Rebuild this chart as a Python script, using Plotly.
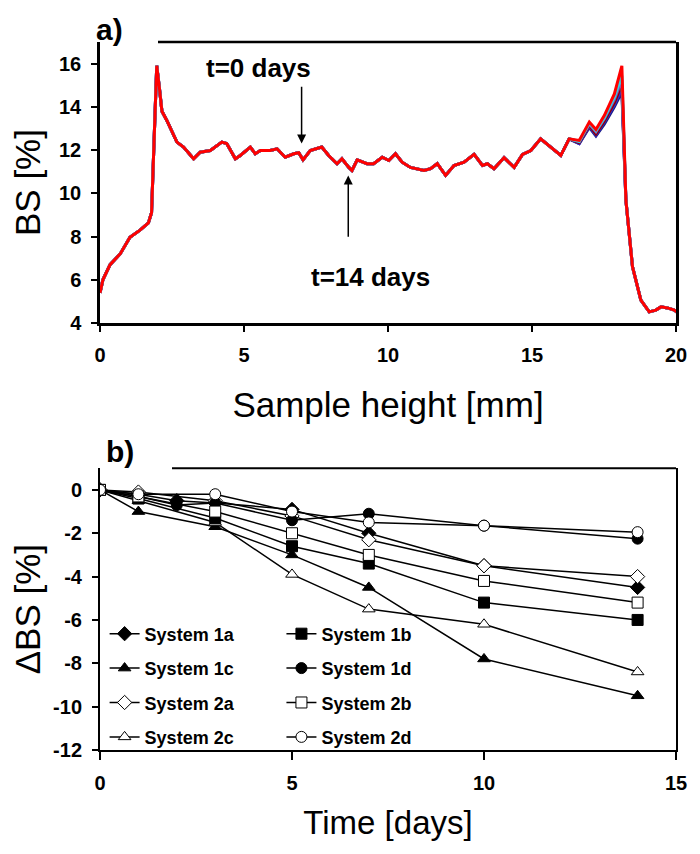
import plotly.graph_objects as go

FONT = "Arial, Liberation Sans, sans-serif"

# ---------------- Panel a) BS profiles ----------------
# common part of profile (left of the right peak)
H_LEFT = [0, 0.1, 0.35, 0.7, 1.04, 1.39, 1.68, 1.79, 1.88, 1.97, 2.06, 2.15, 2.32, 2.67, 2.9,
          3.25, 3.48, 3.83, 4.23, 4.4, 4.7, 4.87, 5.22, 5.39, 5.57, 5.91, 6.15, 6.43, 6.73,
          6.9, 7.05, 7.3, 7.7, 7.94, 8.23, 8.4, 8.64, 8.75, 8.93, 9.27, 9.5, 9.8, 10.03,
          10.26, 10.49, 10.78, 11.25, 11.48, 11.71, 12.0, 12.29, 12.64, 12.99, 13.28,
          13.45, 13.68, 14.03, 14.38, 14.67, 14.96, 15.3, 15.65, 16.0, 16.29]
BS_LEFT = [5.4, 6.0, 6.7, 7.2, 7.97, 8.3, 8.63, 9.1, 12.5, 15.9, 14.9, 13.8, 13.37, 12.37,
           12.14, 11.6, 11.9, 11.98, 12.37, 12.3, 11.6, 11.75, 12.14, 11.83, 11.98, 11.98,
           12.06, 11.67, 11.83, 11.88, 11.55, 11.98, 12.14, 11.75, 11.37, 11.6, 11.2, 11.06,
           11.55, 11.37, 11.37, 11.67, 11.52, 11.83, 11.44, 11.2, 11.06, 11.14, 11.37, 10.83,
           11.29, 11.44, 11.8, 11.29, 11.37, 11.14, 11.65, 11.2, 11.8, 11.98, 12.52, 12.14,
           11.75, 12.52]
# right peak region (differs with time)
H_PEAK = [16.64, 16.99, 17.22, 17.51, 17.86, 18.12]
BS_PEAK_RED = [12.45, 13.3, 12.95, 13.6, 14.6, 15.9]
BS_PEAK_CYAN = [12.4, 13.25, 12.9, 13.5, 14.45, 15.45]
BS_PEAK_PURPLE = [12.4, 13.2, 12.85, 13.45, 14.35, 15.25]
BS_PEAK_DARKRED = [12.35, 13.15, 12.75, 13.35, 14.2, 15.05]
BS_PEAK_BLUE = [12.3, 13.1, 12.7, 13.3, 14.1, 14.85]
BS_PEAK_NAVY = [12.3, 13.05, 12.65, 13.2, 14.0, 14.7]
# common tail
H_RIGHT = [18.26, 18.49, 18.78, 19.07, 19.3, 19.48, 19.7, 19.94, 20.2]
BS_RIGHT = [9.68, 6.6, 5.06, 4.52, 4.6, 4.75, 4.7, 4.6, 4.35]

PROFILES = [
    ("#1c1c80", BS_PEAK_NAVY),
    ("#2b2bd8", BS_PEAK_BLUE),
    ("#8b0000", BS_PEAK_DARKRED),
    ("#9040b0", BS_PEAK_PURPLE),
    ("#30d8e8", BS_PEAK_CYAN),
    ("#ff0000", BS_PEAK_RED),
]

# ---------------- Panel b) Delta BS ----------------
DAYS_A = [0, 1, 2, 3, 5, 7, 10, 14]
DAYS_B = [0, 1, 3, 5, 7, 10, 14]
SYS_1A = [0, -0.2, -0.5, -0.6, -0.9, -2.0, -3.5, -4.5]
SYS_1B = [0, -0.4, -1.3, -2.6, -3.4, -5.2, -6.0]
SYS_1C = [0, -1.0, -1.7, -3.0, -4.5, -7.8, -9.5]
SYS_1D = [0, -0.3, -0.7, -0.6, -1.4, -1.1, -1.65, -2.25]
SYS_2A = [0, -0.1, -0.5, -1.2, -2.3, -3.5, -4.0]
SYS_2B = [0, -0.3, -1.0, -2.0, -3.0, -4.2, -5.2]
SYS_2C = [0, -0.5, -1.5, -3.9, -5.5, -6.2, -8.4]
SYS_2D = [0, -0.2, -0.2, -1.0, -1.5, -1.65, -1.95]

Y2_TICKS = [0, -2, -4, -6, -8, -10, -12]
Y2_TICKTEXT = ["0", "-2", "-4", "-6", "-8", "-10", "-12"]

SERIES = [
    ("System 1a", DAYS_A, SYS_1A, "diamond", "black", "legend"),
    ("System 1c", DAYS_B, SYS_1C, "triangle-up", "black", "legend"),
    ("System 2a", DAYS_B, SYS_2A, "diamond", "white", "legend"),
    ("System 2c", DAYS_B, SYS_2C, "triangle-up", "white", "legend"),
    ("System 1b", DAYS_B, SYS_1B, "square", "black", "legend2"),
    ("System 1d", DAYS_A, SYS_1D, "circle", "black", "legend2"),
    ("System 2b", DAYS_B, SYS_2B, "square", "white", "legend2"),
    ("System 2d", DAYS_B, SYS_2D, "circle", "white", "legend2"),
]

fig = go.Figure()

for color, peak in PROFILES:
    fig.add_trace(go.Scatter(
        x=H_LEFT + H_PEAK + H_RIGHT, y=BS_LEFT + peak + BS_RIGHT,
        mode="lines", line=dict(color=color, width=3),
        showlegend=False, xaxis="x", yaxis="y", hoverinfo="skip"))

for name, xs, ys, sym, fill, leg in SERIES:
    fig.add_trace(go.Scatter(
        x=xs, y=ys, name=name, mode="lines+markers",
        line=dict(color="black", width=1.5),
        marker=dict(symbol=sym, size=11, color=fill, line=dict(color="black", width=1)),
        xaxis="x2", yaxis="y2", legend=leg, legendgroup=name))

tickfont = dict(family=FONT, size=20, color="black", weight="bold")
titlefont = dict(family=FONT, size=35, color="black")

axis_common = dict(showline=True, linecolor="black", linewidth=2.5, ticks="outside",
                   tickcolor="black", tickwidth=2, ticklen=6, showgrid=False,
                   zeroline=False, tickfont=tickfont, automargin=False)

legfont = dict(family=FONT, size=18, color="black", weight="bold")

fig.update_layout(
    width=700, height=854,
    margin=dict(l=92, r=32, t=34, b=112),
    paper_bgcolor="white", plot_bgcolor="white",
    xaxis=dict(domain=[0, 1], anchor="y", range=[0, 20], tickvals=[0, 5, 10, 15, 20],
               title=dict(text="Sample height [mm]", font=titlefont, standoff=28),
               ticklabelstandoff=6, **axis_common),
    yaxis=dict(domain=[0.603, 1], anchor="x", range=[4, 17], tickvals=[4, 6, 8, 10, 12, 14, 16],
               title=dict(text="BS [%]", font=titlefont, standoff=12),
               mirror=True, ticklabelstandoff=6, **axis_common),
    xaxis2=dict(domain=[0, 1], anchor="y2", range=[0, 15], tickvals=[0, 5, 10, 15],
                title=dict(text="Time [days]", font=dict(family=FONT, size=33, color="black"),
                           standoff=18),
                ticklabelstandoff=6, **{**axis_common, "linewidth": 2, "ticklen": 8}),
    yaxis2=dict(domain=[0, 0.398], anchor="x2", range=[-12, 1],
                tickvals=Y2_TICKS, ticktext=Y2_TICKTEXT,
                title=dict(text="ΔBS [%]", font=titlefont, standoff=12),
                mirror=True, ticklabelstandoff=6, **{**axis_common, "linewidth": 2}),
    legend=dict(x=0.008, y=0.19, xanchor="left", yanchor="top", bgcolor="rgba(0,0,0,0)",
                font=legfont, tracegroupgap=8, itemwidth=30),
    legend2=dict(x=0.315, y=0.19, xanchor="left", yanchor="top", bgcolor="rgba(0,0,0,0)",
                 font=legfont, tracegroupgap=8, itemwidth=30),
    shapes=[
        dict(type="line", xref="paper", yref="y domain", x0=0.1007, x1=1, y0=1, y1=1,
             line=dict(color="black", width=2.5)),
        dict(type="line", xref="paper", yref="y2 domain", x0=0.125, x1=1, y0=1, y1=1,
             line=dict(color="black", width=2)),
    ],
    annotations=[
        dict(text="a)", xref="paper", yref="paper", x=0.016, y=1.017, showarrow=False,
             xanchor="center", yanchor="middle",
             font=dict(family=FONT, size=30, color="black", weight="bold")),
        dict(text="b)", xref="paper", yref="paper", x=0.035, y=0.421, showarrow=False,
             xanchor="center", yanchor="middle",
             font=dict(family=FONT, size=30, color="black", weight="bold")),
        dict(text="t=0 days", xref="x", yref="y", x=5.5, y=15.8, showarrow=False,
             font=dict(family=FONT, size=26, color="black", weight="bold")),
        dict(text="t=14 days", xref="x", yref="y", x=9.4, y=6.15, showarrow=False,
             font=dict(family=FONT, size=26, color="black", weight="bold")),
        dict(text="", xref="x", yref="y", x=7.0, y=12.3, ax=7.0, ay=15.0,
             axref="x", ayref="y", showarrow=True, arrowhead=2, arrowsize=1.2,
             arrowwidth=1.5, arrowcolor="black"),
        dict(text="", xref="x", yref="y", x=8.62, y=10.83, ax=8.62, ay=7.92,
             axref="x", ayref="y", showarrow=True, arrowhead=2, arrowsize=1.2,
             arrowwidth=1.5, arrowcolor="black"),
    ],
)

fig.write_html("out.html")
